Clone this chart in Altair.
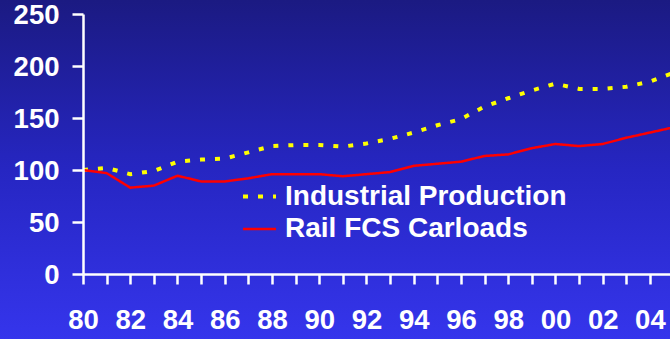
import altair as alt
import pandas as pd

years = list(range(1980, 2006))
industrial = [100, 102, 96, 99, 108, 110, 111, 117, 123, 124, 124, 122.5, 125.5, 130,
              136, 143, 149, 161, 169, 176.5, 183, 178, 178, 180, 185, 193.5]
rail = [100, 97, 83, 85, 94.5, 89, 89, 92, 96, 96, 96, 94, 96, 98,
        104, 106, 108, 113.5, 115, 121, 125, 123, 125, 131, 136, 141]
series_names = ["Industrial Production", "Rail FCS Carloads"]
y_ticks = [0, 50, 100, 150, 200, 250]
x_ticks = list(range(1980, 2005))

rows = []
for i, yr in enumerate(years):
    rows.append({"year": yr, "value": industrial[i], "series": series_names[0]})
    rows.append({"year": yr, "value": rail[i], "series": series_names[1]})
df = pd.DataFrame(rows)

FONT = "Liberation Sans"
W, H = 587, 260
PL, PT = 83, 14

bg = alt.Chart(pd.DataFrame({"a": [0]})).mark_rect(
    fill=alt.Gradient(
        gradient="linear",
        stops=[
            alt.GradientStop(color="#1b1a82", offset=0),
            alt.GradientStop(color="#2626c2", offset=0.5),
            alt.GradientStop(color="#3535ec", offset=1),
        ],
        x1=0, x2=0, y1=0, y2=1,
    ),
    strokeWidth=0,
).encode(
    x=alt.value(-PL), x2=alt.value(670 - PL),
    y=alt.value(-PT), y2=alt.value(339 - PT),
)

leg = alt.Legend(title=None, orient="none", legendX=158, legendY=164)

lines = alt.Chart(df).mark_line(clip=True).encode(
    x=alt.X("year:Q",
            scale=alt.Scale(domain=[1980, 2004.85], nice=False, zero=False),
            axis=alt.Axis(values=x_ticks,
                          labelExpr="datum.value % 2 == 0 ? substring(toString(datum.value), 2, 4) : ''",
                          title=None, tickSize=10, labelPadding=22, labelFlush=False,
                          labelOverlap=False, zindex=1)),
    y=alt.Y("value:Q",
            scale=alt.Scale(domain=[0, 250], nice=False),
            axis=alt.Axis(values=y_ticks, title=None, tickSize=11, labelPadding=13,
                          labelFlush=False, labelOffset=1.5, zindex=1)),
    color=alt.Color("series:N",
                    scale=alt.Scale(domain=series_names, range=["#ffff00", "#ff0000"]),
                    legend=leg),
    strokeDash=alt.StrokeDash("series:N",
                              scale=alt.Scale(domain=series_names, range=[[5, 10], [1, 0]]),
                              legend=leg),
    strokeWidth=alt.StrokeWidth("series:N",
                                scale=alt.Scale(domain=series_names, range=[4, 2.5]),
                                legend=None),
)

chart = alt.layer(bg, lines).properties(
    width=W, height=H,
    autosize="none",
    padding={"left": PL, "top": PT, "right": 0, "bottom": 339 - PT - H},
    background="#2828c4",
).configure_view(stroke=None).configure_axis(
    grid=False,
    domainColor="white", domainWidth=2.5,
    tickColor="white", tickWidth=2.5,
    labelColor="white", labelFont=FONT, labelFontSize=27.5, labelFontWeight="bold",
).configure_legend(
    labelColor="white", labelFont=FONT, labelFontSize=28, labelFontWeight="bold",
    symbolType="stroke", symbolSize=1089, symbolStrokeWidth=3.5,
    labelOffset=7, rowPadding=0, padding=0, labelLimit=400,
)

chart.save("out.html", embed_options={"renderer": "svg", "actions": False})
